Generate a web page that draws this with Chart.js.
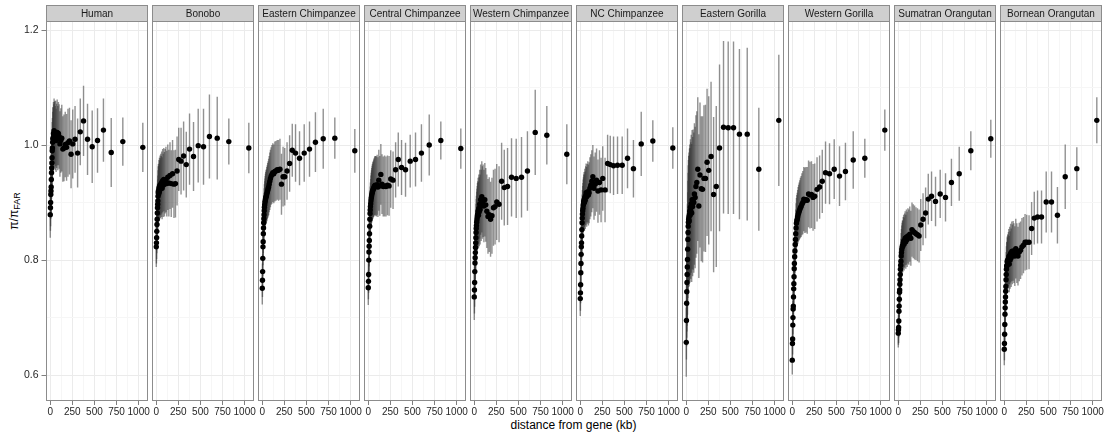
<!DOCTYPE html>
<html>
<head>
<meta charset="utf-8">
<script src="https://cdn.jsdelivr.net/npm/chart.js@4.4.1/dist/chart.umd.min.js"></script>
<style>
  body { margin: 0; background: #fff; }
  #wrap { position: relative; width: 1109px; height: 436px; font-family: "Liberation Sans", Arial, sans-serif; overflow: hidden; }
  #wrap canvas { position: absolute; left: 0; top: 0; }
  #xtitle { position: absolute; left: 45px; width: 1057px; top: 418px; text-align: center; font-size: 12px; color: #000; }
  #ytitle { position: absolute; left: 14px; top: 211px; transform: translate(-50%, -50%) rotate(-90deg); font-size: 12px; white-space: nowrap; color: #000; }
  #ytitle sub { font-size: 9px; vertical-align: -2px; }
</style>
</head>
<body>
<div id="wrap">
  <div id="xtitle">distance from gene (kb)</div>
  <div id="ytitle">π/π<sub>FAR</sub></div>
</div>
<script>
// panel names, left to right
const species = ['Human', 'Bonobo', 'Eastern Chimpanzee', 'Central Chimpanzee', 'Western Chimpanzee',
  'NC Chimpanzee', 'Eastern Gorilla', 'Western Gorilla', 'Sumatran Orangutan', 'Bornean Orangutan'];

// distance bins (kb), shared by every panel
const dist = [1, 3, 5, 7, 9, 11, 13, 15, 17, 19, 21, 23, 25, 28, 31, 34, 37, 40, 44, 48, 52, 57, 62, 67, 73, 79,
  86, 93, 101, 110, 120, 131, 143, 156, 170, 185, 201, 218, 236, 255, 281, 310, 340, 377, 422, 475, 535, 602,
  690, 821, 1047];

const xTicks = [0, 250, 500, 750, 1000];
const yTicks = [0.6, 0.8, 1.0, 1.2];

// pi / pi_FAR and half width of the error bar
const piHuman = [0.879,0.891,0.900,0.914,0.920,0.927,0.940,0.952,0.960,0.969,
  0.978,0.990,0.995,1.005,1.012,1.010,1.020,1.015,1.025,1.018,
  1.022,1.012,1.020,1.008,1.016,1.022,1.012,1.020,1.015,1.002,
  1.008,1.012,0.993,0.995,1.001,0.996,1.004,1.007,0.984,1.002,
  1.010,0.986,1.023,1.042,1.010,0.997,1.008,1.026,0.987,1.006,0.996];
const errHuman = [0.040,0.040,0.041,0.042,0.043,0.044,0.045,0.046,0.047,0.048,
  0.049,0.050,0.052,0.053,0.054,0.055,0.055,0.056,0.056,0.057,
  0.055,0.056,0.057,0.055,0.056,0.057,0.056,0.055,0.056,0.057,
  0.056,0.058,0.057,0.058,0.057,0.058,0.059,0.058,0.059,0.060,
  0.058,0.060,0.058,0.061,0.062,0.063,0.056,0.055,0.060,0.042,0.043];

const piBonobo = [0.823,0.830,0.839,0.850,0.862,0.871,0.882,0.891,0.897,0.903,
  0.911,0.917,0.920,0.915,0.925,0.918,0.928,0.922,0.930,0.925,
  0.932,0.928,0.935,0.925,0.938,0.930,0.940,0.932,0.937,0.940,
  0.933,0.944,0.934,0.947,0.933,0.950,0.932,0.933,0.955,0.975,
  0.972,0.981,0.966,0.993,0.980,0.999,0.997,1.015,1.012,1.006,0.995];
const errBonobo = [0.035,0.036,0.037,0.038,0.039,0.040,0.041,0.042,0.043,0.044,
  0.045,0.046,0.047,0.048,0.049,0.050,0.050,0.051,0.052,0.052,
  0.053,0.053,0.054,0.054,0.055,0.055,0.055,0.056,0.056,0.057,
  0.057,0.057,0.058,0.058,0.058,0.059,0.059,0.059,0.060,0.055,
  0.058,0.060,0.057,0.062,0.060,0.064,0.066,0.073,0.072,0.040,0.044];

const piEastChimp = [0.751,0.765,0.780,0.803,0.823,0.832,0.846,0.856,0.865,0.872,
  0.879,0.886,0.892,0.896,0.900,0.903,0.906,0.908,0.910,0.912,
  0.915,0.918,0.921,0.924,0.927,0.932,0.937,0.942,0.946,0.949,
  0.952,0.950,0.954,0.955,0.957,0.956,0.958,0.932,0.945,0.945,
  0.955,0.968,0.991,0.986,0.977,0.986,0.993,1.005,1.011,1.012,0.990];
const errEastChimp = [0.028,0.029,0.030,0.031,0.032,0.033,0.034,0.035,0.036,0.037,
  0.038,0.039,0.040,0.041,0.042,0.043,0.044,0.045,0.046,0.046,
  0.047,0.047,0.048,0.048,0.049,0.049,0.050,0.050,0.050,0.051,
  0.051,0.051,0.052,0.052,0.052,0.053,0.053,0.053,0.052,0.050,
  0.050,0.049,0.046,0.050,0.047,0.050,0.048,0.052,0.052,0.036,0.038];

const piCentChimp = [0.752,0.763,0.775,0.800,0.814,0.824,0.834,0.846,0.859,0.871,
  0.881,0.887,0.893,0.898,0.903,0.907,0.910,0.913,0.916,0.919,
  0.921,0.923,0.925,0.927,0.929,0.930,0.929,0.928,0.931,0.927,
  0.939,0.929,0.949,0.932,0.928,0.929,0.928,0.930,0.929,0.941,
  0.939,0.957,0.975,0.961,0.957,0.972,0.975,0.986,1.000,1.008,0.994];
const errCentChimp = [0.030,0.031,0.032,0.033,0.034,0.035,0.036,0.037,0.038,0.039,
  0.040,0.041,0.042,0.043,0.044,0.045,0.046,0.047,0.048,0.048,
  0.049,0.049,0.050,0.050,0.051,0.051,0.052,0.052,0.052,0.052,
  0.053,0.052,0.053,0.052,0.052,0.053,0.052,0.052,0.052,0.050,
  0.050,0.048,0.047,0.048,0.047,0.046,0.047,0.050,0.053,0.033,0.035];

const piWestChimp = [0.736,0.748,0.761,0.780,0.795,0.804,0.813,0.822,0.830,0.839,
  0.848,0.855,0.860,0.866,0.870,0.874,0.878,0.880,0.885,0.878,
  0.890,0.884,0.897,0.888,0.905,0.895,0.910,0.900,0.903,0.894,
  0.905,0.896,0.885,0.876,0.879,0.871,0.877,0.891,0.893,0.901,
  0.897,0.937,0.926,0.928,0.944,0.942,0.944,0.955,1.022,1.017,0.984];
const errWestChimp = [0.040,0.041,0.042,0.043,0.044,0.045,0.046,0.047,0.048,0.049,
  0.050,0.051,0.052,0.053,0.054,0.055,0.056,0.057,0.058,0.058,
  0.059,0.060,0.060,0.061,0.061,0.062,0.062,0.063,0.063,0.063,
  0.064,0.064,0.064,0.065,0.065,0.065,0.066,0.066,0.066,0.066,
  0.066,0.067,0.066,0.067,0.068,0.069,0.070,0.069,0.074,0.051,0.052];

const piNCChimp = [0.733,0.743,0.757,0.778,0.794,0.810,0.823,0.830,0.842,0.853,
  0.865,0.873,0.880,0.886,0.890,0.895,0.898,0.902,0.905,0.900,
  0.909,0.904,0.912,0.917,0.910,0.915,0.919,0.913,0.917,0.925,
  0.930,0.937,0.945,0.925,0.932,0.939,0.920,0.935,0.922,0.942,
  0.922,0.968,0.966,0.964,0.965,0.965,0.977,0.959,1.002,1.007,0.995];
const errNCChimp = [0.030,0.031,0.032,0.033,0.034,0.035,0.036,0.037,0.038,0.039,
  0.040,0.041,0.042,0.043,0.044,0.045,0.046,0.047,0.048,0.049,
  0.050,0.050,0.051,0.051,0.052,0.052,0.053,0.053,0.053,0.054,
  0.054,0.054,0.055,0.055,0.055,0.055,0.055,0.056,0.056,0.056,
  0.056,0.050,0.050,0.051,0.050,0.050,0.052,0.050,0.056,0.036,0.036];

const piEastGor = [0.657,0.695,0.725,0.745,0.761,0.775,0.788,0.801,0.819,0.836,
  0.848,0.859,0.866,0.871,0.875,0.868,0.879,0.885,0.878,0.892,
  0.886,0.898,0.882,0.905,0.893,0.905,0.900,0.915,0.909,0.928,
  0.935,0.958,0.894,0.948,0.924,0.923,0.942,0.942,0.970,0.956,
  0.980,0.914,0.928,0.995,1.031,1.030,1.030,1.019,1.019,0.958,1.043];
const errEastGor = [0.060,0.068,0.075,0.080,0.085,0.089,0.093,0.096,0.099,0.102,
  0.104,0.106,0.108,0.110,0.112,0.114,0.115,0.116,0.117,0.118,
  0.119,0.120,0.120,0.121,0.121,0.122,0.122,0.123,0.123,0.124,
  0.124,0.125,0.125,0.126,0.126,0.127,0.127,0.128,0.128,0.129,
  0.130,0.135,0.140,0.145,0.150,0.150,0.150,0.148,0.150,0.107,0.114];

const piWestGor = [0.626,0.655,0.663,0.687,0.700,0.715,0.720,0.736,0.750,0.759,
  0.771,0.785,0.794,0.806,0.816,0.827,0.836,0.846,0.856,0.864,
  0.868,0.871,0.875,0.879,0.882,0.885,0.888,0.891,0.893,0.897,
  0.900,0.906,0.904,0.905,0.904,0.915,0.913,0.914,0.909,0.911,
  0.923,0.927,0.937,0.952,0.950,0.958,0.946,0.954,0.974,0.977,1.026];
const errWestGor = [0.025,0.026,0.027,0.028,0.029,0.030,0.031,0.032,0.033,0.034,
  0.035,0.036,0.037,0.038,0.039,0.040,0.041,0.042,0.043,0.044,
  0.045,0.046,0.047,0.048,0.049,0.050,0.051,0.052,0.053,0.054,
  0.055,0.056,0.057,0.057,0.058,0.058,0.058,0.058,0.058,0.057,
  0.056,0.055,0.055,0.054,0.053,0.052,0.052,0.050,0.050,0.034,0.036];

const piSumatran = [0.673,0.679,0.683,0.694,0.711,0.720,0.732,0.744,0.748,0.758,
  0.766,0.775,0.784,0.791,0.798,0.807,0.813,0.818,0.822,0.825,
  0.824,0.830,0.833,0.828,0.834,0.838,0.832,0.840,0.836,0.842,
  0.840,0.845,0.838,0.853,0.850,0.848,0.846,0.844,0.842,0.861,
  0.871,0.882,0.906,0.911,0.902,0.915,0.909,0.935,0.950,0.990,1.011];
const errSumatran = [0.025,0.026,0.027,0.028,0.029,0.030,0.031,0.032,0.033,0.034,
  0.035,0.036,0.037,0.038,0.039,0.040,0.041,0.042,0.043,0.044,
  0.045,0.045,0.046,0.046,0.047,0.047,0.047,0.048,0.048,0.048,
  0.048,0.048,0.048,0.047,0.047,0.047,0.046,0.046,0.046,0.045,
  0.045,0.044,0.044,0.043,0.043,0.042,0.042,0.041,0.047,0.034,0.033];

const piBornean = [0.645,0.655,0.671,0.688,0.706,0.717,0.727,0.736,0.746,0.754,
  0.766,0.775,0.784,0.790,0.790,0.798,0.795,0.800,0.797,0.802,
  0.806,0.793,0.808,0.800,0.812,0.804,0.815,0.810,0.816,0.812,
  0.807,0.820,0.812,0.807,0.814,0.817,0.823,0.826,0.831,0.831,
  0.831,0.855,0.873,0.875,0.875,0.901,0.901,0.878,0.945,0.959,1.043];
const errBornean = [0.028,0.029,0.030,0.031,0.032,0.033,0.034,0.035,0.036,0.037,
  0.038,0.039,0.040,0.041,0.042,0.043,0.044,0.045,0.046,0.047,
  0.048,0.049,0.050,0.050,0.051,0.051,0.052,0.052,0.052,0.052,
  0.052,0.052,0.052,0.051,0.051,0.050,0.050,0.049,0.049,0.048,
  0.047,0.046,0.046,0.046,0.046,0.053,0.053,0.049,0.056,0.037,0.040];

const piList = [piHuman, piBonobo, piEastChimp, piCentChimp, piWestChimp, piNCChimp, piEastGor, piWestGor, piSumatran, piBornean];
const errList = [errHuman, errBonobo, errEastChimp, errCentChimp, errWestChimp, errNCChimp, errEastGor, errWestGor, errSumatran, errBornean];

const W = 1109, H = 436;
const FONT = '"Liberation Sans", Arial, sans-serif';

const isMajorX = v => xTicks.includes(v);
const isMajorY = v => yTicks.some(t => Math.abs(t - v) < 1e-6);

// panel border + grey strip with the species name
const stripPlugin = {
  id: 'strip',
  afterDraw(chart, args, opts) {
    const { ctx, chartArea: a } = chart;
    const l = Math.round(a.left) + 0.5, r = Math.round(a.right) - 0.5;
    const t = Math.round(a.top) + 0.5, b = Math.round(a.bottom) - 0.5;
    ctx.save();
    ctx.lineWidth = 1;
    ctx.strokeStyle = '#8c8c8c';
    ctx.strokeRect(l, t, r - l, b - t);
    ctx.fillStyle = '#cfcfcf';
    ctx.fillRect(l, t - 16, r - l, 16);
    ctx.strokeRect(l, t - 16, r - l, 16);
    ctx.fillStyle = '#1a1a1a';
    ctx.font = '10px ' + FONT;
    ctx.textAlign = 'center';
    ctx.textBaseline = 'middle';
    ctx.fillText(opts.label, (l + r) / 2, t - 7.5);
    ctx.restore();
  }
};

const wrap = document.getElementById('wrap');

species.forEach((name, i) => {
  const left = 45.5 + 106 * i;
  const right = left + 102;
  const pi = piList[i], err = errList[i];

  const cv = document.createElement('canvas');
  cv.width = W; cv.height = H;
  wrap.appendChild(cv);

  new Chart(cv, {
    type: 'scatter',
    data: {
      datasets: [{
        type: 'bar',
        data: dist.map((d, k) => ({ x: d, y: [pi[k] - err[k], pi[k] + err[k]] })),
        backgroundColor: 'rgba(55,55,55,0.55)',
        borderWidth: 0,
        inflateAmount: 0,
        barThickness: 1.4,
        grouped: false,
        order: 2
      }, {
        type: 'scatter',
        data: dist.map((d, k) => ({ x: d, y: pi[k] })),
        backgroundColor: '#000',
        borderWidth: 0,
        pointRadius: 2.7,
        order: 1
      }]
    },
    options: {
      responsive: false,
      animation: false,
      events: [],
      layout: { padding: { left: 0, right: W - right, top: 21, bottom: 0 } },
      plugins: {
        legend: { display: false },
        tooltip: { enabled: false },
        strip: { label: name }
      },
      scales: {
        x: {
          type: 'linear',
          min: -53,
          max: 1100,
          offset: false,
          afterFit: s => { s.height = 35; },
          border: { display: false },
          grid: {
            offset: false,
            color: c => (c.tick && isMajorX(c.tick.value)) ? '#ebebeb' : '#f6f6f6',
            tickColor: c => (c.tick && isMajorX(c.tick.value)) ? '#7f7f7f' : 'rgba(0,0,0,0)',
            tickLength: 4
          },
          ticks: {
            stepSize: 125,
            includeBounds: false,
            autoSkip: false,
            maxRotation: 0,
            padding: 1,
            color: '#262626',
            font: { size: 10, family: FONT },
            callback: v => isMajorX(v) ? String(v) : ''
          }
        },
        y: {
          min: 0.555,
          max: 1.2157,
          afterFit: s => { s.width = left; },
          border: { display: false },
          grid: {
            color: c => (c.tick && isMajorY(c.tick.value)) ? '#ebebeb' : '#f6f6f6',
            tickColor: c => (c.tick && isMajorY(c.tick.value)) ? '#7f7f7f' : 'rgba(0,0,0,0)',
            tickLength: 4,
            drawTicks: i === 0
          },
          ticks: {
            display: i === 0,
            stepSize: 0.1,
            includeBounds: false,
            padding: 3,
            color: '#262626',
            font: { size: 10.5, family: FONT },
            callback: v => isMajorY(v) ? v.toFixed(1) : ''
          }
        }
      }
    },
    plugins: [stripPlugin]
  });
});
</script>
</body>
</html>
